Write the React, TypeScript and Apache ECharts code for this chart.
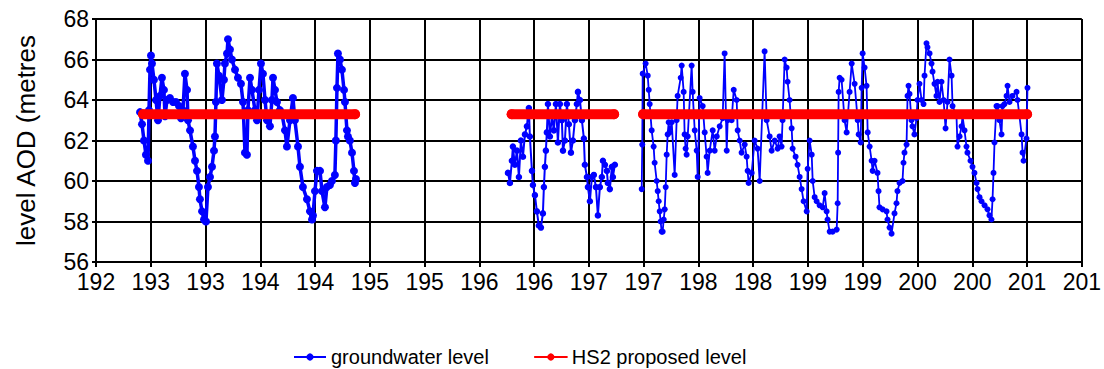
import React, { useEffect, useRef } from "react";
import * as echarts from "echarts";

const X_MIN = 1925;
const X_MAX = 2015;
const X_STEP = 5;
const Y_MIN = 56;
const Y_MAX = 68;
const Y_STEP = 2;

const GW_NAME = "groundwater level";
const HS2_NAME = "HS2 proposed level";
const HS2_LEVEL = 63.3;
const hs2Spans: number[][] = [
  [1929.3, 1948.65],
  [1962.95, 1972.3],
  [1974.95, 2010.0],
];

const gw1929: number[][] = [
  [1929.02, 63.4], [1929.2, 62.8], [1929.38, 62.0], [1929.56, 61.3], [1929.75, 61.0],
  [1929.84, 63.5], [1929.93, 65.5], [1930.02, 66.2], [1930.11, 65.8], [1930.29, 65.0],
  [1930.48, 64.0], [1930.66, 63.0], [1930.84, 64.2], [1931.02, 65.1], [1931.2, 64.5],
  [1931.3, 63.2], [1931.48, 64.0], [1931.75, 64.1], [1932.03, 63.9], [1932.3, 63.9],
  [1932.58, 63.7], [1932.76, 63.1], [1932.94, 63.5], [1933.12, 65.3], [1933.31, 64.5],
  [1933.4, 63.0], [1933.58, 62.5], [1933.85, 61.7], [1934.04, 61.0], [1934.22, 60.5],
  [1934.4, 59.7], [1934.49, 59.1], [1934.68, 58.5], [1934.86, 58.1], [1935.04, 58.0],
  [1935.22, 59.7], [1935.41, 60.2], [1935.59, 60.7], [1935.77, 61.5], [1935.86, 62.2],
  [1935.95, 63.9], [1936.04, 65.8], [1936.23, 65.2], [1936.5, 64.0], [1936.68, 65.0],
  [1936.77, 65.8], [1936.96, 66.3], [1937.05, 67.0], [1937.23, 66.5], [1937.41, 66.0],
  [1937.69, 65.5], [1937.96, 65.1], [1938.23, 64.8], [1938.42, 63.9], [1938.6, 61.4],
  [1938.78, 61.3], [1938.87, 63.5], [1939.06, 65.1], [1939.24, 64.5], [1939.51, 63.5],
  [1939.7, 63.0], [1939.88, 64.5], [1940.06, 65.8], [1940.24, 65.3], [1940.43, 64.0],
  [1940.61, 63.0], [1940.88, 62.7], [1941.06, 64.0], [1941.16, 65.1], [1941.34, 64.5],
  [1941.52, 63.9], [1941.79, 63.5], [1941.98, 63.3], [1942.25, 62.5], [1942.43, 61.7],
  [1942.71, 63.0], [1942.98, 64.1], [1943.16, 63.0], [1943.44, 61.7], [1943.62, 60.7],
  [1943.89, 59.7], [1944.26, 59.1], [1944.53, 58.5], [1944.72, 58.1], [1944.81, 58.3],
  [1944.99, 59.5], [1945.17, 60.5], [1945.45, 60.5], [1945.63, 59.5], [1945.9, 58.7],
  [1946.08, 59.7], [1946.36, 59.8], [1946.54, 60.0], [1946.81, 60.3], [1946.9, 62.0],
  [1947.0, 64.6], [1947.09, 66.3], [1947.27, 66.0], [1947.45, 65.5], [1947.64, 64.5],
  [1947.73, 63.9], [1947.91, 62.5], [1948.0, 62.2], [1948.18, 62.0], [1948.37, 61.4],
  [1948.55, 60.5], [1948.64, 59.9], [1948.73, 60.1],
];

const gw1962: number[][] = [
  [1962.61, 60.4], [1962.79, 59.9], [1962.97, 61.0], [1963.06, 61.7], [1963.24, 60.8],
  [1963.43, 61.5], [1963.61, 60.2], [1963.79, 62.0], [1963.98, 61.2], [1964.16, 62.3],
  [1964.34, 62.7], [1964.43, 63.2], [1964.52, 63.6], [1964.61, 62.2], [1964.8, 60.5],
  [1964.89, 59.8], [1965.07, 59.3], [1965.25, 58.5], [1965.43, 57.8], [1965.62, 57.7],
  [1965.8, 58.4], [1965.89, 59.7], [1965.98, 60.7], [1966.07, 61.5], [1966.16, 62.4],
  [1966.26, 63.8], [1966.44, 62.2], [1966.62, 63.2], [1966.8, 62.5], [1966.99, 63.8],
  [1967.17, 61.9], [1967.35, 63.8], [1967.53, 63.0], [1967.63, 61.5], [1967.81, 62.0],
  [1967.99, 63.8], [1968.17, 62.8], [1968.36, 61.4], [1968.54, 62.0], [1968.72, 63.0],
  [1968.9, 63.8], [1969.0, 64.4], [1969.18, 64.0], [1969.36, 63.0], [1969.54, 62.1],
  [1969.63, 60.8], [1969.82, 60.2], [1969.91, 59.7], [1970.09, 59.0], [1970.27, 60.2],
  [1970.45, 60.3], [1970.64, 59.7], [1970.82, 58.3], [1971.0, 59.7], [1971.18, 60.2],
  [1971.28, 61.0], [1971.46, 60.8], [1971.64, 60.5], [1971.73, 59.9], [1971.91, 59.6],
  [1972.1, 60.7], [1972.19, 60.2], [1972.37, 60.8],
];

const gw1974: number[][] = [
  [1974.82, 59.6], [1974.87, 61.8], [1974.91, 65.3], [1975.18, 65.8], [1975.37, 65.2],
  [1975.46, 64.5], [1975.55, 63.8], [1975.73, 62.5], [1975.91, 61.7], [1976.0, 60.9],
  [1976.19, 60.0], [1976.28, 59.5], [1976.37, 59.0], [1976.46, 58.5], [1976.55, 58.0],
  [1976.64, 57.5], [1976.73, 57.5], [1976.83, 58.1], [1976.92, 58.6], [1977.01, 59.7],
  [1977.1, 61.3], [1977.19, 62.3], [1977.28, 62.9], [1977.37, 62.4], [1977.56, 62.9],
  [1977.83, 60.3], [1978.01, 63.0], [1978.1, 64.2], [1978.38, 65.1], [1978.47, 65.7],
  [1978.65, 64.4], [1978.74, 62.3], [1978.83, 61.6], [1978.92, 61.3], [1979.02, 62.2],
  [1979.38, 65.7], [1979.47, 64.4], [1979.66, 62.5], [1979.84, 61.5], [1979.93, 60.2],
  [1980.11, 64.1], [1980.39, 63.7], [1980.57, 62.4], [1980.75, 61.2], [1980.84, 60.4],
  [1981.03, 61.5], [1981.3, 62.5], [1981.48, 61.5], [1981.67, 62.2], [1981.94, 62.7],
  [1982.21, 63.1], [1982.39, 66.3], [1982.58, 61.5], [1982.67, 63.0], [1983.03, 63.0],
  [1983.22, 64.5], [1983.49, 64.0], [1983.58, 62.5], [1983.76, 62.0], [1983.94, 61.4],
  [1984.22, 61.8], [1984.4, 61.2], [1984.49, 60.5], [1984.58, 59.9], [1984.86, 60.4],
  [1985.13, 62.0], [1985.4, 61.6], [1985.59, 60.0], [1986.04, 66.4], [1986.23, 63.0],
  [1986.5, 62.2], [1986.68, 61.5], [1986.96, 62.0], [1987.23, 61.6], [1987.41, 62.2],
  [1987.59, 61.7], [1987.68, 63.0], [1987.87, 66.0], [1988.05, 65.6], [1988.14, 64.9],
  [1988.32, 64.0], [1988.51, 62.6], [1988.6, 61.6], [1988.87, 61.2], [1989.05, 60.8],
  [1989.24, 60.2], [1989.42, 59.6], [1989.6, 59.0], [1989.88, 58.5], [1989.97, 60.6],
  [1990.15, 62.0], [1990.34, 61.3], [1990.43, 60.0], [1990.61, 59.2], [1990.79, 59.0],
  [1991.06, 58.8], [1991.34, 58.7], [1991.52, 59.4], [1991.7, 58.5], [1991.79, 58.1],
  [1991.98, 57.5], [1992.25, 57.5], [1992.62, 57.6], [1992.71, 58.9], [1992.75, 61.4],
  [1992.8, 64.4], [1992.89, 65.1], [1993.07, 65.0], [1993.34, 63.0], [1993.53, 62.4],
  [1993.8, 64.4], [1993.99, 65.8], [1994.26, 64.8], [1994.54, 63.0], [1994.63, 62.3],
  [1994.81, 61.9], [1994.9, 64.6], [1994.99, 66.3], [1995.17, 65.6], [1995.35, 64.7],
  [1995.45, 62.4], [1995.63, 61.7], [1995.81, 61.0], [1995.9, 60.5], [1996.08, 61.0],
  [1996.35, 60.4], [1996.44, 59.5], [1996.53, 58.7], [1996.81, 58.6], [1997.17, 58.5],
  [1997.26, 58.1], [1997.45, 57.7], [1997.63, 57.4], [1997.9, 58.4], [1998.08, 58.9],
  [1998.17, 59.5], [1998.36, 59.9], [1998.63, 60.0], [1998.72, 60.9], [1998.81, 61.4],
  [1999.0, 61.8], [1999.09, 64.2], [1999.18, 64.7], [1999.27, 64.3], [1999.45, 63.0],
  [1999.54, 62.7], [1999.72, 62.3], [1999.91, 63.1], [2000.0, 64.0], [2000.18, 64.8],
  [2000.37, 64.0], [2000.55, 63.8], [2000.64, 65.2], [2000.82, 66.8], [2000.91, 66.6],
  [2001.1, 66.3], [2001.28, 65.8], [2001.37, 65.4], [2001.55, 64.8], [2001.73, 64.2],
  [2001.83, 64.9], [2002.01, 63.9], [2002.19, 64.9], [2002.38, 64.0], [2002.56, 62.6],
  [2002.74, 63.9], [2002.92, 66.0], [2003.11, 65.2], [2003.2, 63.7], [2003.56, 63.2],
  [2003.65, 61.7], [2003.84, 62.2], [2004.02, 62.7], [2004.11, 63.2], [2004.29, 62.5],
  [2004.47, 61.7], [2004.56, 61.4], [2004.84, 61.0], [2005.02, 60.7], [2005.2, 60.4],
  [2005.39, 59.9], [2005.48, 59.6], [2005.66, 59.2], [2005.84, 59.0], [2006.12, 58.8],
  [2006.39, 58.6], [2006.57, 58.3], [2006.75, 58.1], [2006.85, 59.1], [2006.94, 60.4],
  [2007.03, 61.9], [2007.21, 63.7], [2007.3, 63.7], [2007.48, 63.0], [2007.67, 62.3],
  [2007.76, 63.7], [2007.94, 63.8], [2008.13, 64.2], [2008.22, 64.7], [2008.4, 63.9],
  [2008.67, 64.2], [2009.04, 64.4], [2009.13, 64.0], [2009.31, 63.2], [2009.5, 62.3],
  [2009.59, 61.4], [2009.68, 61.0], [2009.95, 62.1], [2010.04, 64.6],
];

// segment data with its drawn density (older records are weekly and look heavier)
const gwSegments = [gw1929, gw1962, gw1974];
const gwSymbolSizes = [8, 6.5, 6];
const gwLineWidths = [3.5, 2, 1.8];

const FONT = "'Liberation Sans', Arial, sans-serif";
const BLUE = "#0000FF";
const RED = "#FF0000";

export default function App() {
  const ref = useRef<HTMLDivElement>(null);

  useEffect(() => {
    if (!ref.current) return;
    const chart = echarts.init(ref.current, undefined, { renderer: "svg" });

    const gwSeries = gwSegments.map((seg, i) => ({
      type: "line",
      name: GW_NAME,
      data: seg,
      color: BLUE,
      lineStyle: { color: BLUE, width: gwLineWidths[i] },
      itemStyle: { color: BLUE },
      symbol: "circle",
      symbolSize: gwSymbolSizes[i],
      showSymbol: true,
      z: 3,
    }));

    const hs2Series = hs2Spans.map((span) => ({
      type: "line",
      name: HS2_NAME,
      data: [
        [span[0], HS2_LEVEL],
        [span[1], HS2_LEVEL],
      ],
      color: RED,
      lineStyle: { color: RED, width: 10, cap: "round" },
      itemStyle: { color: RED },
      symbol: "circle",
      symbolSize: 10,
      showSymbol: true,
      z: 4,
    }));

    chart.setOption({
      animation: false,
      backgroundColor: "#ffffff",
      grid: { left: 96, right: 22, top: 19, bottom: 107, containLabel: false },
      xAxis: {
        type: "value",
        min: X_MIN,
        max: X_MAX,
        interval: X_STEP,
        axisLine: { show: true, lineStyle: { color: "#000", width: 2 } },
        axisTick: { show: true, length: 5, lineStyle: { color: "#000", width: 2 } },
        splitLine: { show: true, lineStyle: { color: "#000", width: 2 } },
        axisLabel: {
          color: "#000",
          fontSize: 23,
          lineHeight: 18,
          fontFamily: FONT,
          margin: 11,
          formatter: (v: number) => String(v).slice(0, 3),
        },
      },
      yAxis: {
        type: "value",
        min: Y_MIN,
        max: Y_MAX,
        interval: Y_STEP,
        name: "level AOD (metres",
        nameLocation: "middle",
        nameRotate: 90,
        nameGap: 57,
        nameTextStyle: { color: "#000", fontSize: 26, fontFamily: FONT },
        axisLine: { show: true, lineStyle: { color: "#000", width: 2 } },
        axisTick: { show: true, length: 4, lineStyle: { color: "#000", width: 2 } },
        splitLine: { show: true, lineStyle: { color: "#000", width: 2 } },
        axisLabel: {
          color: "#000",
          fontSize: 23,
          lineHeight: 18,
          fontFamily: FONT,
          margin: 7,
        },
      },
      legend: {
        left: 288,
        top: 342,
        itemWidth: 32,
        itemHeight: 9,
        itemGap: 45,
        textStyle: { color: "#000", fontSize: 20, fontFamily: FONT },
        data: [
          { name: GW_NAME, lineStyle: { width: 2, color: BLUE }, itemStyle: { color: BLUE } },
          { name: HS2_NAME, lineStyle: { width: 2, color: RED }, itemStyle: { color: RED } },
        ],
      },
      series: [...gwSeries, ...hs2Series],
    });

    return () => chart.dispose();
  }, []);

  return (
    <div
      ref={ref}
      style={{ position: "fixed", left: 0, top: 0, width: 1104, height: 369 }}
    />
  );
}
